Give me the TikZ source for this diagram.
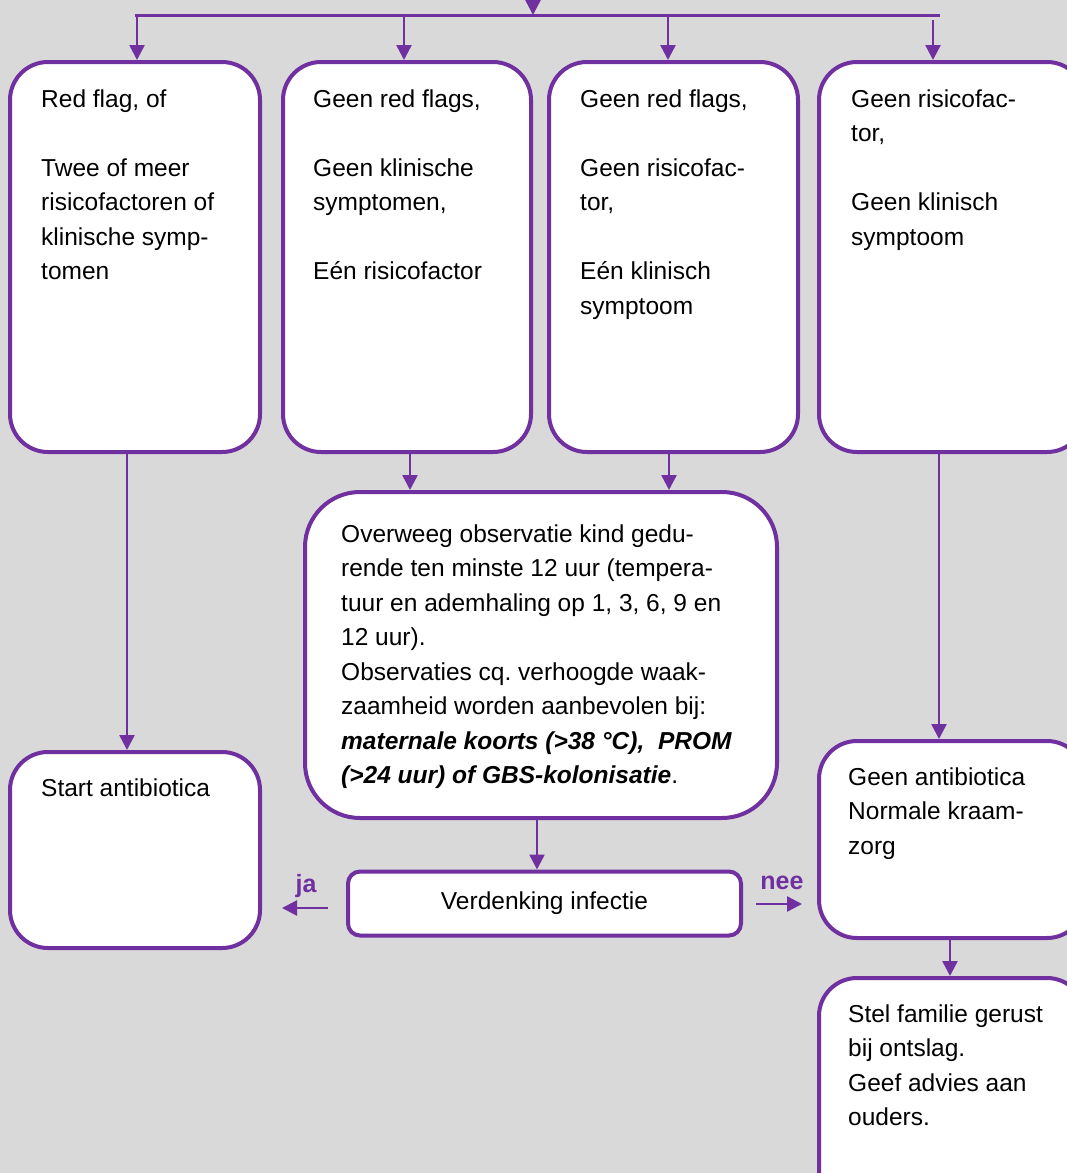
\documentclass[tikz,border=0pt]{standalone}
\usepackage{fontspec}
\setmainfont{Liberation Sans}
\usetikzlibrary{arrows.meta}
\definecolor{pur}{HTML}{7030A0}
\definecolor{bg}{HTML}{D9D9D9}
\frenchspacing
\begin{document}
\begin{tikzpicture}[x=1pt,y=-1pt,
 box/.style={draw=pur, line width=4pt, fill=white, rectangle, inner sep=0pt, outer sep=2pt},
 txt/.style={inner sep=0pt, anchor=base west, align=left, font=\fontsize{24.5}{34.5}\selectfont},
 arr/.style={draw=pur, line width=2.5pt, -{Triangle[width=15pt,length=15pt]}},
 lbl/.style={text=pur, font=\fontsize{25}{30}\selectfont\bfseries, inner sep=0pt, anchor=base}
]
\useasboundingbox (0,0) rectangle (1067,1173);
\clip (0,0) rectangle (1067,1173);
\fill[bg] (0,0) rectangle (1067,1173);

% boxes
\node[box, rounded corners=38pt, minimum width=250pt, minimum height=390pt] (b1) at (135,257) {};
\node[box, rounded corners=38pt, minimum width=248pt, minimum height=390pt] (b2) at (407,257) {};
\node[box, rounded corners=38pt, minimum width=249pt, minimum height=390pt] (b3) at (673.5,257) {};
\node[box, rounded corners=38pt, minimum width=266pt, minimum height=390pt] (b4) at (952,257) {};
\node[box, rounded corners=38pt, minimum width=250pt, minimum height=196pt] (st) at (135,850) {};
\node[box, rounded corners=55pt, minimum width=472pt, minimum height=326pt] (ob) at (541,655) {};
\node[box, rounded corners=12pt, minimum width=393pt, minimum height=64pt, font=\fontsize{24.5}{30}\selectfont] (vd) at (544.5,903.5) {Verdenking infectie};
\node[box, rounded corners=38pt, minimum width=266pt, minimum height=197pt] (ga) at (952,839.5) {};
\node[box, rounded corners=38pt, minimum width=266pt, minimum height=232pt] (sf) at (952,1094) {};

% texts (anchor = baseline of the last line)
\node[txt] (t1) at (41,279.5) {Red flag, of\\[34.5pt]Twee of meer\\risicofactoren of\\klinische symp-\\tomen};
\node[txt] (t2) at (313,279.5) {Geen red flags,\\[34.5pt]Geen klinische\\symptomen,\\[34.5pt]Eén risicofactor};
\node[txt] (t3) at (580,314) {Geen red flags,\\[34.5pt]Geen risicofac-\\tor,\\[34.5pt]Eén klinisch\\symptoom};
\node[txt] (t4) at (851,245) {Geen risicofac-\\tor,\\[34.5pt]Geen klinisch\\symptoom};
\node[txt] (tob) at (341,783.5) {Overweeg observatie kind gedu-\\rende ten minste 12 uur (tempera-\\tuur en ademhaling op 1, 3, 6, 9 en\\12 uur).\\Observaties cq. verhoogde waak-\\zaamheid worden aanbevolen bij:\\\textbf{\textit{maternale koorts (>38 °C),\ \ PROM}}\\\textbf{\textit{(>24 uur) of GBS-kolonisatie}}.};
\node[txt] (tst) at (41,796) {Start antibiotica};
\node[txt] (tga) at (848,854) {Geen antibiotica\\Normale kraam-\\zorg};
\node[txt] (tsf) at (848,1125.5) {Stel familie gerust\\bij ontslag.\\Geef advies aan\\ouders.};

% top distribution
\coordinate (src) at (533,-2);
\coordinate (jt) at (533,15);
\coordinate (jl) at (135,15);
\coordinate (jr) at (940,15);
\draw[pur, line width=3pt] (jl) -- (jr);
\draw[arr] (src) -- (jt);
\coordinate (x1) at (137,15);
\coordinate (x2) at (404,15);
\coordinate (x3) at (668,15);
\coordinate (x4) at (933,20);
\draw[arr] (x1) -- (x1 |- b1.north);
\draw[arr] (x2) -- (x2 |- b2.north);
\draw[arr] (x3) -- (x3 |- b3.north);
\draw[arr] (x4) -- (x4 |- b4.north);

% vertical connectors
\coordinate (d1) at (127,0);
\coordinate (d2) at (410,0);
\coordinate (d3) at (669,0);
\coordinate (d4) at (537,0);
\coordinate (d5) at (939,0);
\coordinate (d6) at (950,0);
\draw[arr] (d1 |- b1.south) -- (d1 |- st.north);
\draw[arr] (d2 |- b2.south) -- (d2 |- ob.north);
\draw[arr] (d3 |- b3.south) -- (d3 |- ob.north);
\draw[arr] (d4 |- ob.south) -- (d4 |- vd.north);
\draw[arr] (d5 |- b4.south) -- (d5 |- ga.north);
\draw[arr] (d6 |- ga.south) -- (d6 |- sf.north);

% ja / nee
\coordinate (ja1) at (328,908);
\coordinate (ja2) at (282,908);
\coordinate (ne1) at (756,904);
\coordinate (ne2) at (802,904);
\draw[arr] (ja1) -- (ja2);
\draw[arr] (ne1) -- (ne2);
\node[lbl] (lja) at (306,892) {ja};
\node[lbl] (lne) at (782,889) {nee};
\end{tikzpicture}
\end{document}
